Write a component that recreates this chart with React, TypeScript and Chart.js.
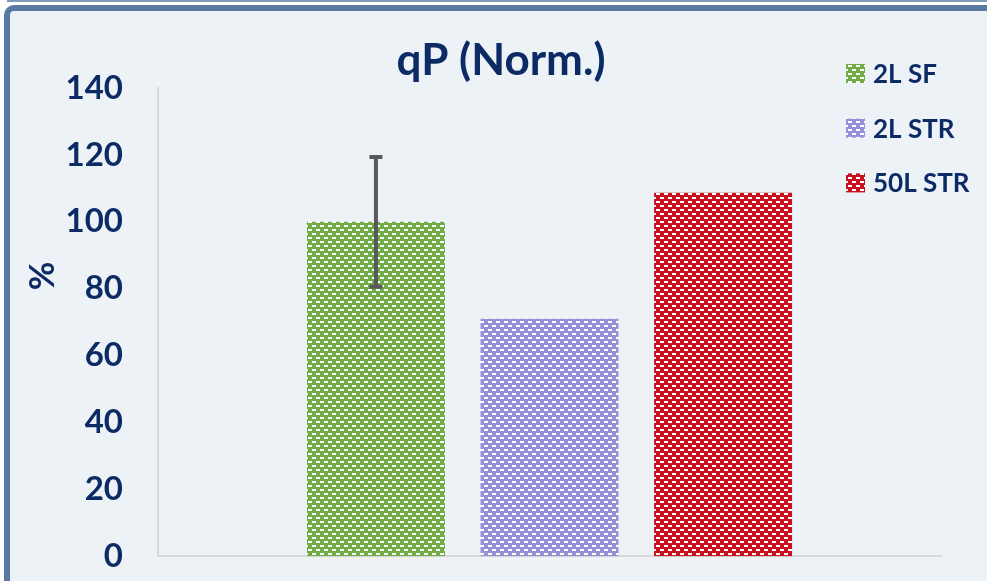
import React, { useEffect, useRef } from "react";
import { Chart, registerables } from "chart.js";

Chart.register(...registerables);

// ---- data ----
const categories = ["qP"];
const seriesLabels = ["2L SF", "2L STR", "50L STR"];
const seriesValues = [100, 71, 108.7];
const errorValues = [19.4, 0, 0];
const seriesColors = ["#70ad47", "#9691d8", "#c8101f"];
const yMin = 0;
const yMax = 140;
const yStep = 20;
const chartTitle = "qP (Norm.)";
const yAxisTitle = "%";

const NAVY = "#0c2a64";
const FONT = "Lato, 'Open Sans', sans-serif";

function makePattern(color: string): CanvasPattern | string {
  const tile = document.createElement("canvas");
  tile.width = 8;
  tile.height = 8;
  const c = tile.getContext("2d");
  if (!c) return color;
  c.fillStyle = color;
  c.fillRect(0, 0, 8, 8);
  c.fillStyle = "#ffffff";
  c.fillRect(0, 1, 4, 2);
  c.fillRect(4, 5, 4, 2);
  const ctx = document.createElement("canvas").getContext("2d");
  const p = ctx ? ctx.createPattern(tile, "repeat") : null;
  return p || color;
}

const errorBarPlugin = {
  id: "errorBars",
  afterDatasetsDraw(chart: any) {
    const ctx = chart.ctx;
    const y = chart.scales.y;
    ctx.save();
    ctx.strokeStyle = "#595959";
    ctx.lineWidth = 4;
    chart.data.datasets.forEach((ds: any, i: number) => {
      const err = errorValues[i];
      if (!err) return;
      const meta = chart.getDatasetMeta(i);
      meta.data.forEach((bar: any, j: number) => {
        const v = ds.data[j];
        const x = bar.x;
        const top = y.getPixelForValue(v + err);
        const bot = y.getPixelForValue(v - err);
        ctx.beginPath();
        ctx.moveTo(x, top);
        ctx.lineTo(x, bot);
        ctx.moveTo(x - 6.5, top);
        ctx.lineTo(x + 6.5, top);
        ctx.moveTo(x - 6.5, bot);
        ctx.lineTo(x + 6.5, bot);
        ctx.stroke();
      });
    });
    ctx.restore();
  },
};

const sideLegendPlugin = {
  id: "sideLegend",
  afterDraw(chart: any) {
    const ctx = chart.ctx;
    ctx.save();
    chart.data.datasets.forEach((ds: any, i: number) => {
      const cy = 73.5 + i * 54.7;
      ctx.fillStyle = ds.backgroundColor;
      ctx.fillRect(846, cy - 9.5, 19, 19);
      ctx.fillStyle = NAVY;
      ctx.font = `bold 26px ${FONT}`;
      ctx.textBaseline = "middle";
      ctx.textAlign = "left";
      ctx.fillText(ds.label, 873, cy + 1);
    });
    // y axis title
    ctx.translate(43, 276);
    ctx.rotate(-Math.PI / 2);
    ctx.fillStyle = NAVY;
    ctx.font = `bold 35px ${FONT}`;
    ctx.textAlign = "center";
    ctx.textBaseline = "middle";
    ctx.fillText(yAxisTitle, 0, 0);
    ctx.restore();
  },
};

export default function App() {
  const canvasRef = useRef<HTMLCanvasElement | null>(null);

  useEffect(() => {
    if (!canvasRef.current) return;
    const datasets = seriesLabels.map((label, i) => ({
      label,
      data: [seriesValues[i]],
      backgroundColor: makePattern(seriesColors[i]),
      borderWidth: 0,
      categoryPercentage: 0.665,
      barPercentage: 0.795,
    }));
    const chart = new Chart(canvasRef.current, {
      type: "bar",
      data: { labels: categories, datasets: datasets as any },
      plugins: [errorBarPlugin, sideLegendPlugin],
      options: {
        animation: false,
        responsive: true,
        maintainAspectRatio: false,
        layout: { padding: { left: 61, right: 46, top: 0, bottom: 0 } },
        plugins: {
          legend: { display: false },
          tooltip: { enabled: false },
          title: {
            display: true,
            text: chartTitle,
            color: NAVY,
            font: { family: FONT, size: 44, weight: "bold", lineHeight: 1.2 },
            padding: { top: 34, bottom: 1.2 },
          },
        },
        scales: {
          x: {
            grid: { display: false, drawTicks: false },
            border: { display: true, color: "#d9d9d9", width: 2 },
            ticks: { display: false },
            afterFit: (s: any) => {
              s.height = 0;
            },
          },
          y: {
            min: yMin,
            max: yMax,
            grid: { display: false, drawTicks: false },
            border: { display: true, color: "#d9d9d9", width: 2 },
            ticks: {
              stepSize: yStep,
              color: NAVY,
              padding: 35,
              font: { family: FONT, size: 33, weight: "bold" },
            },
            afterFit: (s: any) => {
              s.width = 97;
            },
          },
        },
      },
    });
    return () => chart.destroy();
  }, []);

  return (
    <div
      style={{
        position: "fixed",
        left: 0,
        top: 0,
        width: 987,
        height: 581,
        background: "#ffffff",
        overflow: "hidden",
      }}
    >
      <div
        style={{
          position: "absolute",
          left: 7,
          top: 0,
          width: 1000,
          height: 2,
          background: "#7f99b8",
        }}
      />
      <div
        style={{
          position: "absolute",
          left: 4,
          top: 5,
          width: 1000,
          height: 640,
          boxSizing: "border-box",
          border: "6px solid #587aa0",
          borderRadius: 10,
          background: "#edf2f7",
        }}
      />
      <div style={{ position: "absolute", left: 0, top: 0, width: 987, height: 611 }}>
        <canvas ref={canvasRef} />
      </div>
    </div>
  );
}
